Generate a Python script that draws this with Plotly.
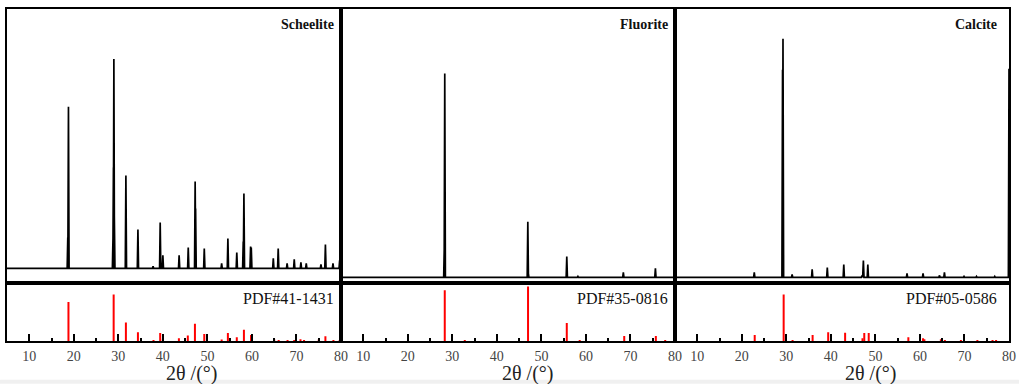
import plotly.graph_objects as go
from plotly.subplots import make_subplots

# ---- measured patterns (2theta in degrees, intensity in counts) ----
scheelite_pos = [18.65, 18.8, 28.8, 28.9, 29.0, 29.1, 31.7, 34.4, 37.8, 39.4, 40.0,
                 43.65, 45.7, 47.25, 47.35, 49.3, 53.2, 54.6, 56.6, 58.05, 58.2,
                 59.7, 59.85, 64.8, 65.9, 67.9, 69.5, 71.0, 72.2, 75.5, 76.5, 78.2, 79.7]
scheelite_int = [310, 1620, 300, 1010, 2100, 530, 930, 390, 20, 460, 130,
                 130, 210, 870, 600, 200, 50, 300, 160, 270, 750,
                 220, 210, 100, 200, 50, 90, 60, 50, 40, 240, 50, 80]

fluorite_pos = [26.8, 28.2, 28.3, 46.95, 47.05, 55.7, 58.2, 68.4, 75.6]
fluorite_int = [5, 330, 2050, 560, 50, 210, 10, 50, 90]

calcite_pos = [22.8, 29.15, 29.25, 31.3, 35.8, 39.2, 42.9, 47.0, 47.3, 48.3,
               57.1, 60.7, 64.4, 65.5, 69.9, 72.7, 76.8, 80.0]
calcite_int = [50, 2090, 2400, 30, 80, 100, 130, 20, 170, 130,
               40, 40, 20, 50, 10, 10, 10, 2100]

# ---- reference cards (relative intensity, %) ----
pdf_scheelite_pos = [18.8, 28.95, 31.7, 34.4, 37.9, 39.4, 40.0, 43.6, 45.6, 47.2, 49.3,
                     53.2, 54.6, 56.6, 58.2, 59.8, 65.0, 66.0, 68.0, 69.5, 70.9, 71.7,
                     75.0, 76.5, 78.3, 79.7]
pdf_scheelite_int = [84, 100, 40, 19, 2, 17, 5, 6, 12, 37, 15,
                     3, 17, 8, 24, 13, 4, 2, 2, 2, 4, 2,
                     3, 10, 2, 2]

pdf_fluorite_pos = [28.3, 32.8, 47.0, 55.7, 58.6, 68.6, 75.7, 77.8]
pdf_fluorite_int = [93, 2, 100, 33, 2, 9, 9, 2]

pdf_calcite_pos = [22.9, 29.4, 31.4, 35.9, 39.4, 43.2, 47.1, 47.5, 48.5, 57.4,
                   60.7, 61.0, 64.7, 65.6, 69.2, 72.9, 76.3, 77.1]
pdf_calcite_int = [13, 100, 2, 13, 19, 18, 6, 17, 17, 8,
                   6, 4, 4, 2, 2, 2, 2, 2]

phase_names = ["Scheelite", "Fluorite", "Calcite"]
card_names = ["PDF#41-1431", "PDF#35-0816", "PDF#05-0586"]
x_ticks = [10, 20, 30, 40, 50, 60, 70, 80]
x_title = "2θ /(°)"

X_MIN, X_MAX = 5, 80
HALF_WIDTH = 0.14


def spike_profile(pos, inten):
    """Baseline with a narrow triangular spike at every measured peak."""
    xs, ys = [X_MIN], [0]
    for p, h in sorted(zip(pos, inten)):
        xs += [p - HALF_WIDTH, p, min(p + HALF_WIDTH, X_MAX)]
        ys += [0, h, 0 if p + HALF_WIDTH <= X_MAX else h]
    if xs[-1] < X_MAX:
        xs.append(X_MAX)
        ys.append(0)
    return xs, ys


def sticks(pos, inten):
    xs, ys = [], []
    for p, h in zip(pos, inten):
        xs += [p, p, None]
        ys += [0, h, None]
    return xs, ys


patterns = [(scheelite_pos, scheelite_int), (fluorite_pos, fluorite_int), (calcite_pos, calcite_int)]
cards = [(pdf_scheelite_pos, pdf_scheelite_int), (pdf_fluorite_pos, pdf_fluorite_int),
         (pdf_calcite_pos, pdf_calcite_int)]
top_ranges = [[-150, 2600], [-60, 2700], [-60, 2700]]
bottom_ranges = [[0, 124], [0, 105.6], [0, 124]]

fig = make_subplots(rows=2, cols=3, horizontal_spacing=0, vertical_spacing=0,
                    row_heights=[0.8263, 0.1737])

serif = "Liberation Serif"

for i in range(3):
    col = i + 1
    px_, py_ = spike_profile(*patterns[i])
    fig.add_trace(go.Scatter(x=px_, y=py_, mode="lines",
                             line=dict(color="black", width=1.7), hoverinfo="skip"),
                  row=1, col=col)
    sx, sy = sticks(*cards[i])
    fig.add_trace(go.Scatter(x=sx, y=sy, mode="lines",
                             line=dict(color="#ff0000", width=2), hoverinfo="skip"),
                  row=2, col=col)

    fig.update_xaxes(range=[X_MIN, X_MAX], showline=True, linecolor="black", linewidth=2,
                     mirror=True, showgrid=False, zeroline=False, ticks="",
                     showticklabels=False, row=1, col=col)
    fig.update_yaxes(range=top_ranges[i], showline=True, linecolor="black", linewidth=2,
                     mirror=True, showgrid=False, zeroline=False, ticks="",
                     showticklabels=False, row=1, col=col)
    fig.update_xaxes(range=[X_MIN, X_MAX], showline=True, linecolor="black", linewidth=2,
                     mirror=True, showgrid=False, zeroline=False,
                     tickmode="array", tickvals=x_ticks, ticktext=[str(v) for v in x_ticks],
                     ticks="inside", ticklen=7, tickwidth=1.5, tickcolor="black",
                     minor=dict(tickvals=[15, 25, 35, 45, 55, 65, 75], ticks="inside",
                                ticklen=3, tickwidth=1.5, tickcolor="black", showgrid=False),
                     tickfont=dict(family=serif, size=14, color="#444"),
                     ticklabelstandoff=1, row=2, col=col)
    fig.update_yaxes(range=bottom_ranges[i], showline=True, linecolor="black", linewidth=2,
                     mirror=True, showgrid=False, zeroline=False, ticks="",
                     showticklabels=False, row=2, col=col)

# panel labels
name_anchor_x = [337, 673, 1003]
for i in range(3):
    fig.add_annotation(text="<b>%s</b>" % phase_names[i], xref="paper", yref="paper",
                       x=(name_anchor_x[i] - 7) / 1006, y=(341 - 23) / 334,
                       xanchor="right", yanchor="middle", showarrow=False,
                       font=dict(family=serif, size=14, color="#111"))
    fig.add_annotation(text=card_names[i], xref="paper", yref="paper",
                       x=(name_anchor_x[i] - 7) / 1006, y=(341 - 298) / 334,
                       xanchor="right", yanchor="middle", showarrow=False,
                       font=dict(family=serif, size=16, color="#111"))

title_center_x = [192, 530, 874]
for cx in title_center_x:
    fig.add_annotation(text=x_title, xref="paper", yref="paper",
                       x=(cx - 7) / 1006, y=(341 - 374) / 334,
                       xanchor="center", yanchor="middle", showarrow=False,
                       font=dict(family=serif, size=20, color="#222"))

# light strip along the foot of the figure
fig.add_shape(type="rect", xref="paper", yref="paper",
              x0=-7 / 1006, x1=1016 / 1006, y0=-43 / 334, y1=-39 / 334,
              fillcolor="#f0f0f0", line=dict(width=0), layer="below")

fig.update_layout(width=1023, height=384, margin=dict(l=7, r=10, t=7, b=43),
                  paper_bgcolor="white", plot_bgcolor="white", showlegend=False)

fig.write_html("out.html")
